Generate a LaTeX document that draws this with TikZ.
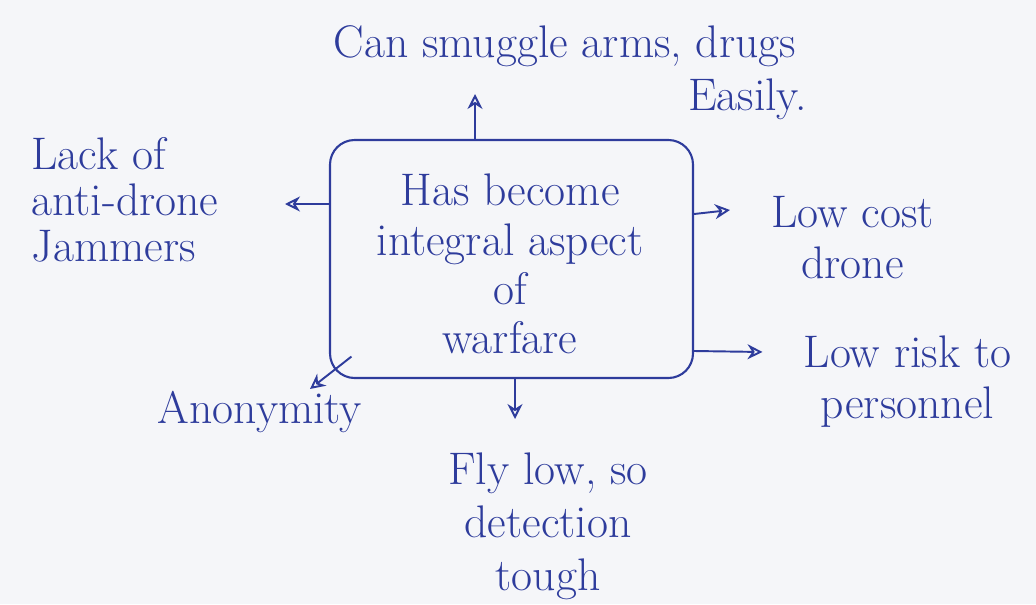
\documentclass[tikz,border=0pt]{standalone}
\usepackage{tikz}
\usetikzlibrary{arrows.meta,positioning,calc}
\definecolor{inkblue}{HTML}{2E3C9C}
\definecolor{paper}{HTML}{F5F6F9}

\begin{document}
\begin{tikzpicture}[
  every node/.style={font=\fontsize{26}{29}\selectfont,text=inkblue,align=center},
  core/.style={draw=inkblue,rounded corners=14pt,line width=1.2pt,
               minimum width=72.6mm,minimum height=47.6mm,inner sep=0pt},
  arr/.style={-{Stealth[length=3mm,width=3mm,open]},line width=1.1pt,color=inkblue}
]
% paper and bounding box
\fill[paper] (0,0) rectangle (20.72,12.08);
\useasboundingbox (0,0) rectangle (20.72,12.08);

% centre box
\node[core] (box) at (10.23,6.9) {};
\node[font=\fontsize{26}{28}\selectfont] (core) at (10.2,6.8)
  {Has become\\integral aspect\\of\\warfare};

% outer notes
\node (smuggle) at (11.3,11.15) {Can smuggle arms, drugs};
\node (easily) at (14.95,10.1) {Easily.};
\node[align=left,font=\fontsize{26}{26}\selectfont] (jammer) at (2.5,8.08)
  {Lack of\\anti-drone\\Jammers};
\node (cost) at (17.05,7.32) {Low cost\\drone};
\node (risk) at (18.15,4.44) {Low risk to\\personnel};
\node (anon) at (5.2,3.85) {Anonymity};
\node[font=\fontsize{26}{30}\selectfont] (lowfly) at (10.96,1.55)
  {Fly low, so\\detection\\tough};

% arrow tips
\coordinate (uptip) at (9.5,10.2);
\coordinate (lefttip) at (5.7,8.0);
\coordinate (costtip) at (14.6,7.88);
\coordinate (risktip) at (15.25,5.04);
\coordinate (anontip) at (6.2,4.3);
\coordinate (downtip) at (10.3,3.7);

\draw[arr] (box.north -| uptip) -- (uptip);
\draw[arr] (box.west |- lefttip) -- (lefttip);
\draw[arr] (box.east |- 0,7.8) -- (costtip);
\draw[arr] (box.east |- 0,5.06) -- (risktip);
\draw[arr] ($(box.south west)+(0.45,0.45)$) -- (anontip);
\draw[arr] (box.south -| downtip) -- (downtip);
\end{tikzpicture}
\end{document}
